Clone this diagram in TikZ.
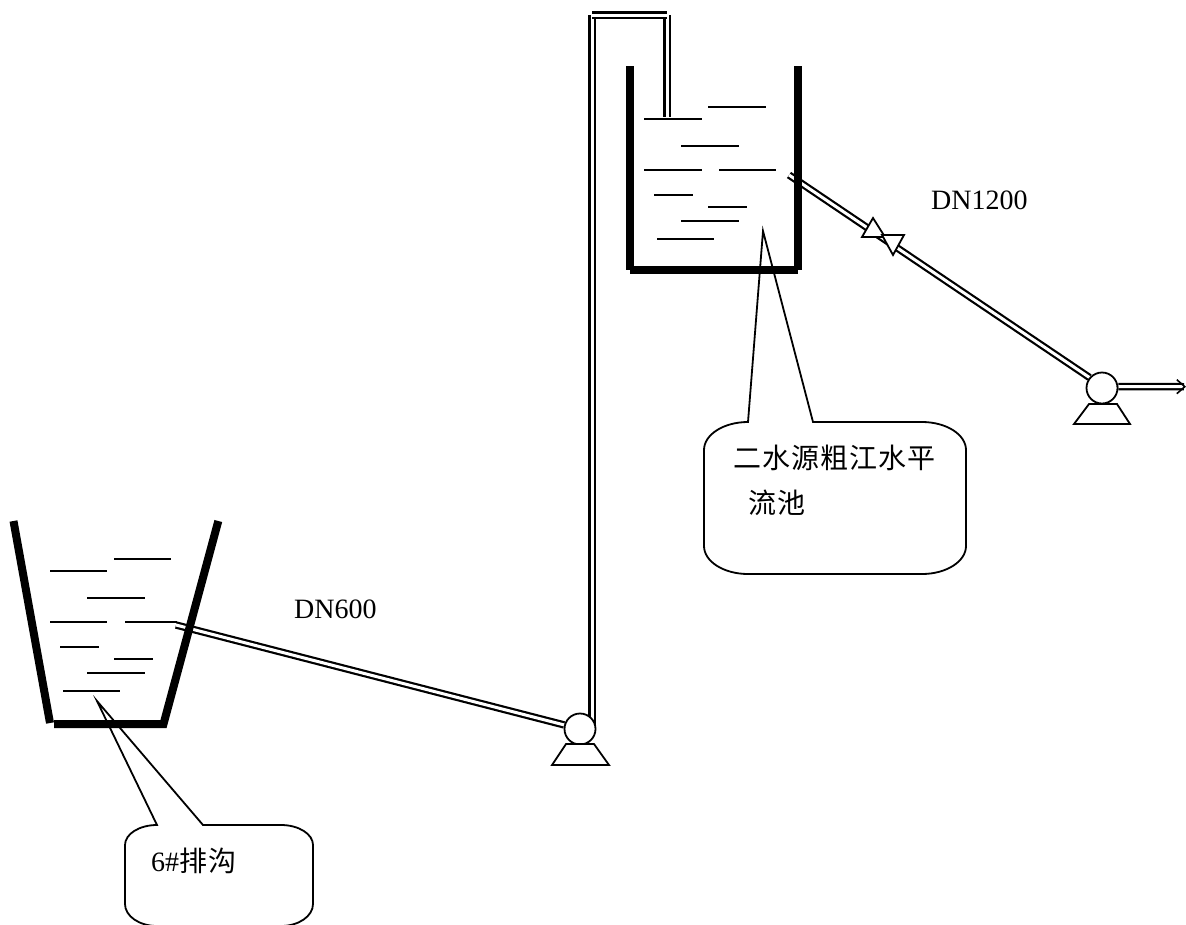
\documentclass[tikz,border=0pt]{standalone}
\usepackage{fontspec}
\setmainfont{Liberation Serif}
\newfontfamily\cjk[LetterSpace=4]{Noto Sans CJK SC}
\usetikzlibrary{arrows.meta,backgrounds}

\begin{document}
\begin{tikzpicture}[x=1pt, y=-1pt, every node/.style={font=\fontsize{28}{34}\selectfont}]
    \tikzstyle{wall}=[line width=8pt]
    \tikzstyle{ripple}=[line width=1.9pt]
    \tikzstyle{pipe}=[double, double distance=3pt, line width=2.2pt]
    \tikzstyle{outline}=[line width=1.8pt, fill=white]
    \tikzstyle{pumpbody}=[draw, circle, line width=1.8pt, fill=white, minimum size=31pt, inner sep=0pt]
    \tikzstyle{callout}=[line width=1.8pt]
    \tikzstyle{label}=[anchor=west, inner sep=0pt]

    \useasboundingbox (0,0) rectangle (1186,924);

    \draw[wall] (629.5,66) -- (629.5,269.5);
    \draw[wall] (797.5,66) -- (797.5,269.5);
    \draw[wall] (629.5,269.5) -- (797.5,269.5);
    \draw[ripple] (708,107) -- (766,107) (644,119) -- (702,119) (681,146) -- (739,146);
    \draw[ripple] (644,170) -- (702,170) (719,170) -- (776,170) (654,195) -- (693,195);
    \draw[ripple] (708,207) -- (747,207) (681,221) -- (739,221) (657,239) -- (714,239);

    \draw[wall] (13.5,521) -- (50,723);
    \draw[wall] (218.3,521) -- (163.5,724) -- (54,724);
    \draw[ripple] (114,559) -- (171,559) (50,571) -- (107,571) (87,598) -- (145,598);
    \draw[ripple] (50,622) -- (107,622) (125,622) -- (177,622) (60,647) -- (99,647);
    \draw[ripple] (114,659) -- (153,659) (87,673) -- (145,673) (63,691) -- (120,691);

    \node[pumpbody] (pumpA) at (580,729) {};
    \draw[outline] (566,744) -- (594,744) -- (609,765) -- (552,765) -- cycle;
    \node[pumpbody] (pumpB) at (1102,388) {};
    \draw[outline] (1089,404) -- (1117,404) -- (1130,424) -- (1074,424) -- cycle;

    \coordinate (drainOut) at (176,625);
    \coordinate (riserL) at (592,15);
    \coordinate (riserR) at (667,15);
    \coordinate (riserEnd) at (667,117);
    \coordinate (poolOut) at (789,175);
    \coordinate (outlet) at (1186,386.7);

    \begin{scope}[on background layer]
        \draw[pipe] (drainOut) -- (pumpA);
        \draw[pipe] (riserL |- pumpA) -- (riserL);
        \draw[pipe] (riserR) -- (riserEnd);
        \draw[pipe] (riserL) -- (riserR);
        \draw[pipe] (poolOut) -- (pumpB.140);
        \draw[pipe, -{Straight Barb[length=8pt, width=14pt, line width=1.6pt]}] (pumpB.5) -- (outlet);
    \end{scope}

    \draw[outline] (873,218) -- (885,237) -- (862,237) -- cycle;
    \draw[outline] (893,255) -- (904,235) -- (882,235) -- cycle;

    \draw[callout] (763,231) -- (748,422) arc[start angle=90, end angle=180, x radius=44pt, y radius=28pt]
        -- (704,546) arc[start angle=180, end angle=270, x radius=44pt, y radius=28pt]
        -- (922,574) arc[start angle=270, end angle=360, x radius=44pt, y radius=28pt]
        -- (966,450) arc[start angle=0, end angle=90, x radius=44pt, y radius=28pt]
        -- (813,422) -- cycle;
    \draw[callout] (97,701) -- (157,825) arc[start angle=90, end angle=180, x radius=32pt, y radius=20pt]
        -- (125,904) arc[start angle=180, end angle=270, x radius=32pt, y radius=22pt]
        -- (281,926) arc[start angle=270, end angle=360, x radius=32pt, y radius=22pt]
        -- (313,845) arc[start angle=0, end angle=90, x radius=32pt, y radius=20pt]
        -- (203,825) -- cycle;

    \node[label] (dnB) at (931,200) {DN1200};
    \node[label] (dnA) at (294,609) {DN600};
    \node[label] (poolA) at (733,458) {\cjk 二水源粗江水平};
    \node[label] (poolB) at (748,503) {\cjk 流池};
    \node[label] (drainName) at (151,861) {6\#{\cjk 排沟}};
\end{tikzpicture}
\end{document}
